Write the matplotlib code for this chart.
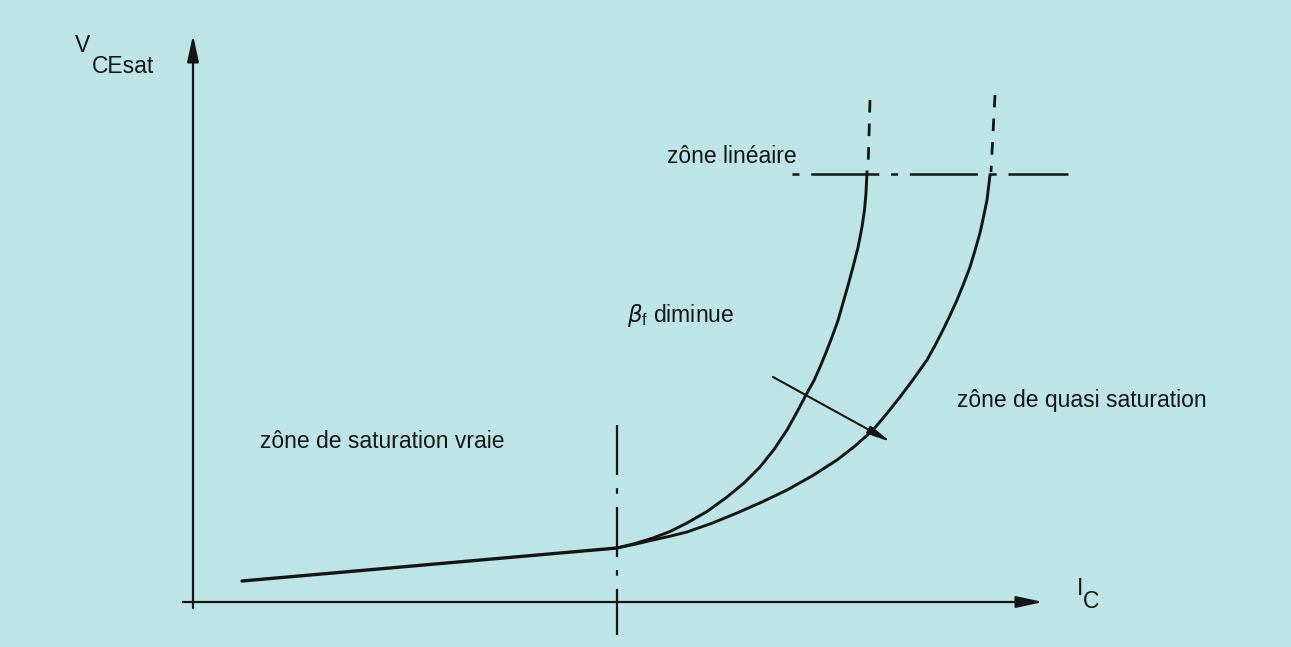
import matplotlib
matplotlib.use('Agg')
import matplotlib.pyplot as plt

plt.rcParams['font.family'] = ['Liberation Sans', 'DejaVu Sans']
plt.rcParams['lines.scale_dashes'] = False

# I_C / V_CEsat in arbitrary units (origin at the axes crossing)
sat_x = [0.49, 4.24]
sat_y = [0.21, 0.54]

# curve with the steeper rise (left one)
curve_a_x = [4.24, 4.42, 4.60, 4.77, 4.94, 5.14, 5.34, 5.51, 5.67, 5.81, 5.94, 6.04, 6.14,
             6.21, 6.27, 6.33, 6.39, 6.45, 6.50, 6.55, 6.60, 6.65, 6.69, 6.715, 6.73, 6.74]
curve_a_y = [0.54, 0.585, 0.64, 0.705, 0.79, 0.905, 1.05, 1.19, 1.35, 1.525, 1.72, 1.90, 2.09,
             2.215, 2.35, 2.495, 2.65, 2.815, 2.99, 3.165, 3.35, 3.545, 3.75, 3.92, 4.09, 4.30]

# curve with the slower rise (right one)
curve_b_x = [4.24, 4.42, 4.60, 4.77, 4.94, 5.19, 5.44, 5.69, 5.94, 6.19, 6.44, 6.62, 6.80,
             6.935, 7.07, 7.205, 7.34, 7.42, 7.50, 7.57, 7.64, 7.705, 7.77, 7.82, 7.87,
             7.905, 7.94, 7.97]
curve_b_y = [0.54, 0.578, 0.62, 0.658, 0.70, 0.788, 0.89, 1.00, 1.12, 1.26, 1.42, 1.56, 1.72,
             1.88, 2.05, 2.23, 2.42, 2.565, 2.72, 2.866, 3.02, 3.18, 3.35, 3.515, 3.69,
             3.85, 4.02, 4.27]

# dashed continuation above the linear zone limit
ext_a_x = [6.77, 6.75]
ext_a_y = [5.02, 4.32]
ext_b_x = [8.02, 7.98]
ext_b_y = [5.07, 4.30]

# limits between zones
lin_x = [5.99, 8.75]
lin_y = [4.28, 4.28]
sat_lim_x = [4.24, 4.24]
sat_lim_y = [1.77, -0.33]

# axes and the "beta_f diminue" arrow
xaxis_x = [-0.10, 8.50]
yaxis_y = [-0.06, 5.67]
beta_start = (5.80, 2.25)
beta_end = (6.98, 1.60)

ink = '#151515'
bg = '#bde5e5'

fig = plt.figure(figsize=(12.91, 6.47), dpi=100)
fig.patch.set_facecolor(bg)
ax = fig.add_axes([0, 0, 1, 1])
ax.set_facecolor(bg)
ax.set_xlim(-1.93, 10.98)
ax.set_ylim(-0.45, 6.02)
ax.axis('off')

# axes with arrow heads
ax.annotate('', xy=(xaxis_x[1], 0), xytext=(xaxis_x[0], 0),
            arrowprops=dict(arrowstyle='-|>,head_length=1.6,head_width=0.35',
                            color=ink, lw=1.6, shrinkA=0, shrinkB=0))
ax.annotate('', xy=(0, yaxis_y[1]), xytext=(0, yaxis_y[0]),
            arrowprops=dict(arrowstyle='-|>,head_length=1.6,head_width=0.35',
                            color=ink, lw=1.6, shrinkA=0, shrinkB=0))

ax.plot(sat_x, sat_y, color=ink, lw=2.4, solid_capstyle='round')
ax.plot(curve_a_x, curve_a_y, color=ink, lw=2.1, solid_joinstyle='round')
ax.plot(curve_b_x, curve_b_y, color=ink, lw=2.1, solid_joinstyle='round')

ax.plot(ext_a_x, ext_a_y, color=ink, lw=2.0, dashes=(9, 8))
ax.plot(ext_b_x, ext_b_y, color=ink, lw=2.0, dashes=(9, 8))
ax.plot(lin_x, lin_y, color=ink, lw=1.8, dashes=(5, 8.5, 49, 8.5))
ax.plot(sat_lim_x, sat_lim_y, color=ink, lw=1.6, dashes=(36, 9.5, 4, 9.5))

ax.annotate('', xy=beta_end, xytext=beta_start,
            arrowprops=dict(arrowstyle='-|>,head_length=1.4,head_width=0.25',
                            color=ink, lw=1.5, shrinkA=0, shrinkB=0))

fs = 16.5
ax.text(-1.18, 5.50, 'V', fontsize=fs, color=ink)
ax.text(-1.01, 5.29, 'CEsat', fontsize=fs, color=ink)
ax.text(8.84, 0.07, 'I', fontsize=fs, color=ink)
ax.text(8.90, -0.06, 'C', fontsize=fs, color=ink)
ax.text(4.74, 4.39, 'zône linéaire', fontsize=fs, color=ink)
ax.text(4.34, 2.80, r'$\beta_\mathregular{f}$ diminue', fontsize=fs, color=ink)
ax.text(0.67, 1.54, 'zône de saturation vraie', fontsize=fs, color=ink)
ax.text(7.64, 1.95, 'zône de quasi saturation', fontsize=fs, color=ink)

fig.savefig('out.png', dpi=100, facecolor=bg)
